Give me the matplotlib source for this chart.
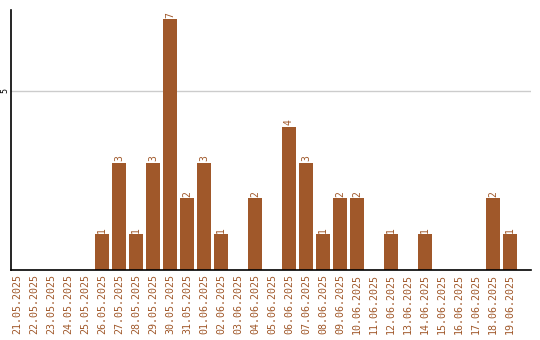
import matplotlib
matplotlib.use("Agg")
import matplotlib.pyplot as plt

# datos del gráfico
fechas = ['21.05.2025', '22.05.2025', '23.05.2025', '24.05.2025', '25.05.2025',
          '26.05.2025', '27.05.2025', '28.05.2025', '29.05.2025', '30.05.2025',
          '31.05.2025', '01.06.2025', '02.06.2025', '03.06.2025', '04.06.2025',
          '05.06.2025', '06.06.2025', '07.06.2025', '08.06.2025', '09.06.2025',
          '10.06.2025', '11.06.2025', '12.06.2025', '13.06.2025', '14.06.2025',
          '15.06.2025', '16.06.2025', '17.06.2025', '18.06.2025', '19.06.2025']
valores = [0, 0, 0, 0, 0, 1, 3, 1, 3, 7, 2, 3, 1, 0, 2, 0, 4, 3, 1, 2, 2, 0,
           1, 0, 1, 0, 0, 0, 2, 1]

color = '#A0582A'

fig = plt.figure(figsize=(5.4, 3.4), dpi=100)
ax = fig.add_axes([11 / 540, 70 / 340, 520 / 540, 260 / 340])

x = list(range(len(fechas)))
ax.bar(x, valores, width=14 / 17, color=color, zorder=2)

# etiquetas de valor encima de cada barra (solo si hay valor)
for xi, v in zip(x, valores):
    if v > 0:
        ax.annotate(str(v), (xi, v), xytext=(0, 1), textcoords='offset points',
                    rotation=90, ha='center', va='bottom', color=color,
                    fontsize=7, family='DejaVu Sans Mono')

ax.set_xlim(-0.353, 30.24)
ax.set_ylim(0, 7.26)
ax.set_xticks(x)
ax.set_xticklabels(fechas, rotation=90, color=color, fontsize=7.2,
                   family='DejaVu Sans Mono')
ax.set_yticks([5])
ax.set_yticklabels(['5'], rotation=90, va='center', fontsize=6,
                   family='DejaVu Sans Mono')
ax.tick_params(axis='x', length=0, pad=3)
ax.tick_params(axis='y', length=0, pad=1)
ax.yaxis.grid(True, color='#cccccc', linewidth=1, zorder=0)

for s in ['top', 'right']:
    ax.spines[s].set_visible(False)
for s in ['left', 'bottom']:
    ax.spines[s].set_color('black')
    ax.spines[s].set_linewidth(1.2)

fig.savefig('out.png', dpi=100)
